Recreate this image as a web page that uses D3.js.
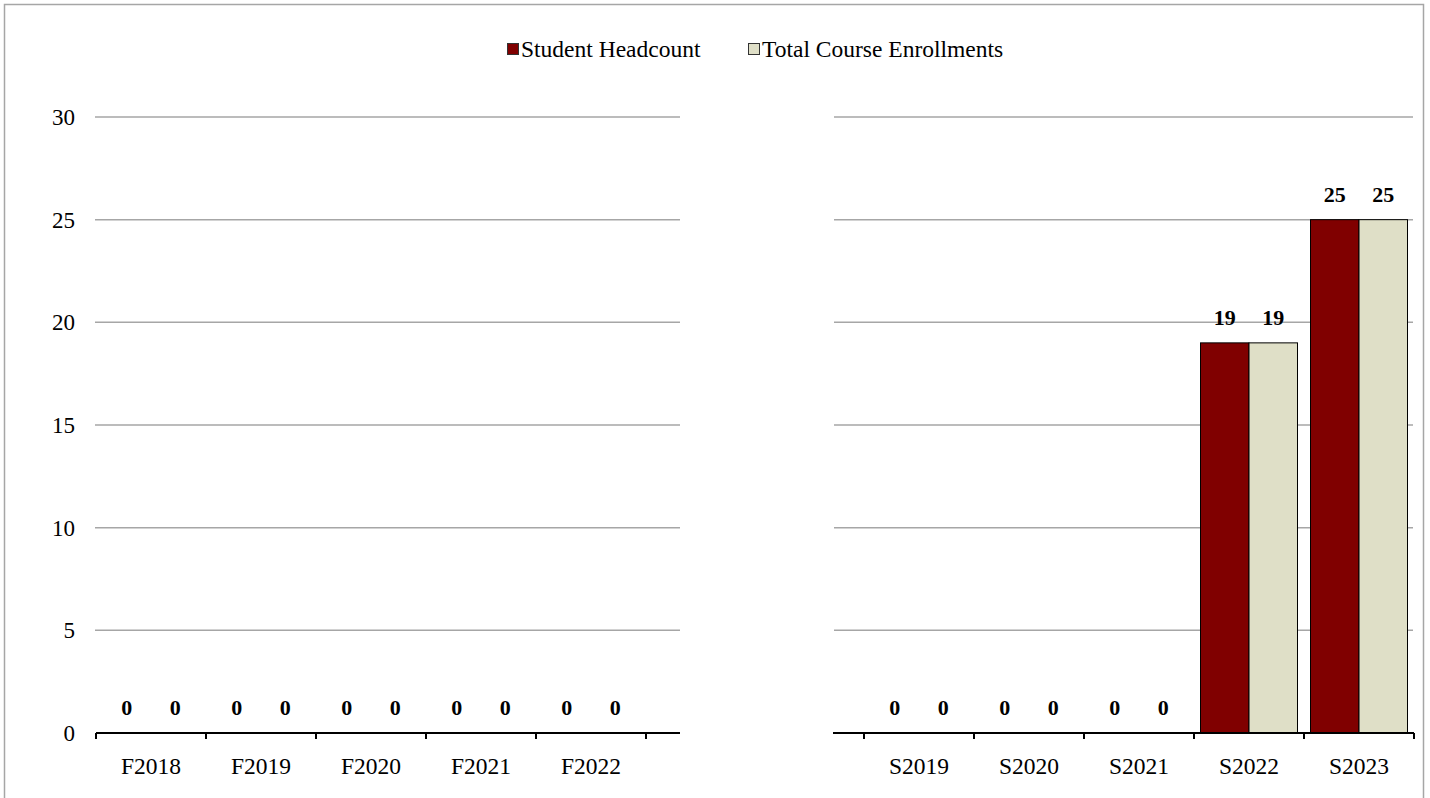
<!DOCTYPE html>
<html>
<head>
<meta charset="utf-8">
<script src="https://cdn.jsdelivr.net/npm/d3@7"></script>
<style>
  html, body { margin: 0; padding: 0; background: #fff; }
  svg { display: block; }
  text { font-family: "Liberation Serif", "Times New Roman", serif; }
</style>
</head>
<body>
<svg id="chart" width="1430" height="798"></svg>
<script>
// ---- Data ----
const fallTerms = ["F2018", "F2019", "F2020", "F2021", "F2022"];
const fallHeadcount = [0, 0, 0, 0, 0];
const fallEnrollments = [0, 0, 0, 0, 0];

const springTerms = ["S2019", "S2020", "S2021", "S2022", "S2023"];
const springHeadcount = [0, 0, 0, 19, 25];
const springEnrollments = [0, 0, 0, 19, 25];

const seriesNames = ["Student Headcount", "Total Course Enrollments"];
const yTicks = [0, 5, 10, 15, 20, 25, 30];

// ---- Styles ----
const colors = ["#800000", "#DFDFC7"];
const gridColor = "#a6a6a6";
const axisFont = 23;
const catFont = 23.5;
const labelFont = 22;
const legendFont = 23.5;

const svg = d3.select("#chart");

// outer frame
svg.append("rect")
  .attr("x", 4.5).attr("y", 4.5)
  .attr("width", 1419).attr("height", 820)
  .attr("fill", "none").attr("stroke", "#a6a6a6").attr("stroke-width", 1.5);

const y = d3.scaleLinear().domain([0, 30]).range([733, 117]);

// y-axis tick labels (left only)
svg.append("g").selectAll("text")
  .data(yTicks).join("text")
  .attr("x", 75).attr("y", d => y(d))
  .attr("dy", "0.35em")
  .attr("text-anchor", "end")
  .attr("font-size", axisFont)
  .attr("fill", "#000")
  .text(d => d);

function panel(cfg) {
  const g = svg.append("g");
  // gridlines
  g.selectAll("line.grid").data(yTicks.filter(d => d > 0)).join("line")
    .attr("class", "grid")
    .attr("x1", cfg.gridX0).attr("x2", cfg.gridX1)
    .attr("y1", d => y(d)).attr("y2", d => y(d))
    .attr("stroke", gridColor).attr("stroke-width", 1.5);

  const x = d3.scaleBand().domain(cfg.cats).range([cfg.bandX0, cfg.bandX0 + 110 * cfg.cats.length]).padding(0);
  const bw = 48.5;
  const sub = d3.scaleBand().domain([0, 1]).range([x.bandwidth() / 2 - bw, x.bandwidth() / 2 + bw]);

  const rows = cfg.cats.map((c, i) => ({ c, vals: [cfg.a[i], cfg.b[i]] }));
  const groups = g.selectAll("g.cat").data(rows).join("g")
    .attr("class", "cat")
    .attr("transform", d => `translate(${x(d.c)},0)`);

  groups.selectAll("rect").data(d => d.vals.map((v, k) => ({ v, k }))).join("rect")
    .filter(d => d.v > 0)
    .attr("x", d => sub(d.k)).attr("width", sub.bandwidth())
    .attr("y", d => y(d.v)).attr("height", d => y(0) - y(d.v))
    .attr("fill", d => colors[d.k])
    .attr("stroke", "#000").attr("stroke-width", 1);

  groups.selectAll("text.lbl").data(d => d.vals.map((v, k) => ({ v, k }))).join("text")
    .attr("class", "lbl")
    .attr("x", d => sub(d.k) + sub.bandwidth() / 2)
    .attr("y", d => y(d.v) - 18)
    .attr("text-anchor", "middle")
    .attr("font-size", labelFont)
    .attr("font-weight", "bold")
    .attr("fill", "#000")
    .text(d => d.v);

  // axis line
  g.append("line")
    .attr("x1", cfg.axisX0).attr("x2", cfg.axisX1)
    .attr("y1", y(0)).attr("y2", y(0))
    .attr("stroke", "#000").attr("stroke-width", 2);
  // ticks
  const tickPos = d3.range(cfg.cats.length + 1).map(i => cfg.bandX0 + 110 * i);
  g.selectAll("line.tick").data(tickPos).join("line")
    .attr("class", "tick")
    .attr("x1", d => d).attr("x2", d => d)
    .attr("y1", y(0)).attr("y2", y(0) + 6)
    .attr("stroke", "#000").attr("stroke-width", 2);
  // category labels
  g.selectAll("text.cat").data(cfg.cats).join("text")
    .attr("class", "cat")
    .attr("x", d => x(d) + x.bandwidth() / 2)
    .attr("y", 774)
    .attr("text-anchor", "middle")
    .attr("font-size", catFont)
    .attr("fill", "#000")
    .text(d => d);
}

panel({ cats: fallTerms, a: fallHeadcount, b: fallEnrollments,
  gridX0: 95, gridX1: 680, axisX0: 96, axisX1: 680, bandX0: 96 });
panel({ cats: springTerms, a: springHeadcount, b: springEnrollments,
  gridX0: 834, gridX1: 1413, axisX0: 833, axisX1: 1414, bandX0: 864 });

// legend
const legend = svg.append("g");
const legendItems = [
  { name: seriesNames[0], color: colors[0], x: 507 },
  { name: seriesNames[1], color: colors[1], x: 748 }
];
legend.selectAll("rect").data(legendItems).join("rect")
  .attr("x", d => d.x + 0.5).attr("y", 43.5)
  .attr("width", 11).attr("height", 11)
  .attr("fill", d => d.color).attr("stroke", "#333").attr("stroke-width", 1);
legend.selectAll("text").data(legendItems).join("text")
  .attr("x", d => d.x + 14).attr("y", 49)
  .attr("dy", "0.35em")
  .attr("font-size", legendFont)
  .attr("fill", "#000")
  .text(d => d.name);
</script>
</body>
</html>
